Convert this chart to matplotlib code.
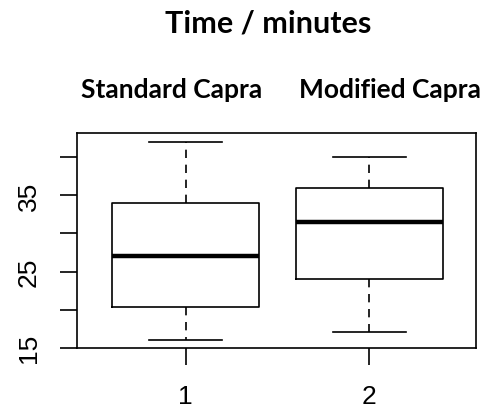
import matplotlib
matplotlib.use("Agg")
import matplotlib.pyplot as plt

groups = ["Standard Capra", "Modified Capra"]
positions_labels = ["1", "2"]
whislo = [16, 17]
q1 = [20.4, 24]
med = [27, 31.5]
q3 = [34, 36]
whishi = [42, 40]

fig = plt.figure(figsize=(4.84, 4.10), dpi=100)
ax = fig.add_axes([77/484, 1-349/410, (476-77)/484, (349-134)/410])

stats = []
for i in range(2):
    stats.append(dict(label=positions_labels[i], whislo=whislo[i], q1=q1[i], med=med[i],
                      q3=q3[i], whishi=whishi[i], fliers=[]))

ax.bxp(stats, positions=[1, 2], widths=0.8, capwidths=0.4, showfliers=False,
       boxprops=dict(color="black", linewidth=1.2),
       medianprops=dict(color="black", linewidth=3.2, solid_capstyle="butt"),
       whiskerprops=dict(color="black", linewidth=1.2, linestyle=(0, (5, 4))),
       capprops=dict(color="black", linewidth=1.2))

ax.set_xlim(0.408, 2.581)
ax.set_ylim(14.96, 43.2)
for s in ax.spines.values():
    s.set_linewidth(1.2)
ax.set_yticks([15, 20, 25, 30, 35, 40])
ax.set_yticklabels(["15", "", "25", "", "35", ""], rotation=90, va="center",
                   fontsize=19, family="Liberation Sans")
ax.set_xticks([1, 2])
ax.set_xticklabels(positions_labels, fontsize=19, family="Liberation Sans")
ax.tick_params(axis="both", length=12, width=1.2, direction="out", pad=14)

fig.text(268/484, 1-23/410, "Time / minutes", ha="center", va="center",
         fontsize=22, fontweight="bold", family="Lato")
fig.text(172/484, 1-90/410, groups[0], ha="center", va="center",
         fontsize=19, fontweight="bold", family="Lato")
fig.text(390/484, 1-90/410, groups[1], ha="center", va="center",
         fontsize=19, fontweight="bold", family="Lato")

fig.savefig("out.png", dpi=100)
